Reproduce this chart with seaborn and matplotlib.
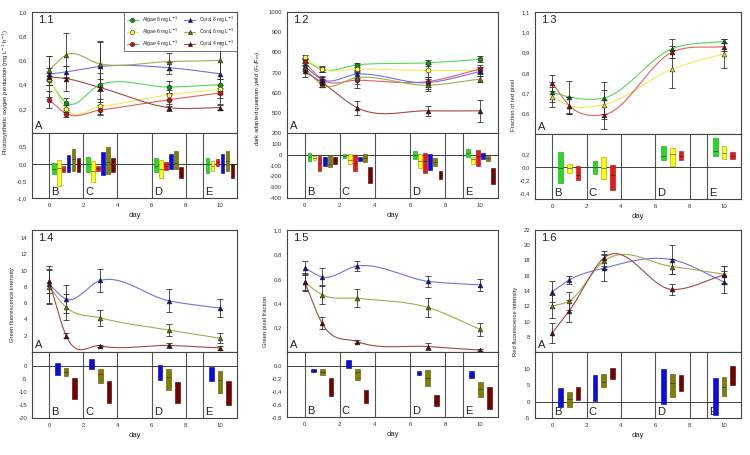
import numpy as np
import matplotlib
matplotlib.use("Agg")
import matplotlib.pyplot as plt
from matplotlib.ticker import FuncFormatter
import pandas as pd
import seaborn as sns

# sampling days of the time series
days = [0, 1, 3, 7, 10]
# centres of the comparison blocks B, C, D, E in the lower plots
block_centres = [1, 3, 7, 10]
block_letters = ["B", "C", "D", "E"]
block_lines = [0, 2, 4, 6, 8, 9]

all_series = ["Algae 8 mg L$^{-1}$", "Algae 6 mg L$^{-1}$", "Algae 4 mg L$^{-1}$",
              "Coral 8 mg L$^{-1}$", "Coral 6 mg L$^{-1}$", "Coral 4 mg L$^{-1}$"]

# 1.1 photosynthetic oxygen production (order: algae 8/6/4, coral 8/6/4)
oxy_mean = [[0.435, 0.25, 0.40, 0.38, 0.40],
            [0.45, 0.20, 0.22, 0.315, 0.36],
            [0.275, 0.16, 0.19, 0.275, 0.33],
            [0.485, 0.505, 0.55, 0.54, 0.49],
            [0.52, 0.645, 0.57, 0.59, 0.60],
            [0.465, 0.45, 0.375, 0.21, 0.21]]
oxy_sd = [[0.04, 0.04, 0.05, 0.05, 0.05],
          [0.05, 0.03, 0.06, 0.04, 0.04],
          [0.07, 0.03, 0.04, 0.05, 0.04],
          [0.05, 0.05, 0.20, 0.05, 0.25],
          [0.12, 0.18, 0.19, 0.07, 0.15],
          [0.17, 0.10, 0.12, 0.03, 0.02]]
oxy_lo = [[-0.30, -0.24, -0.24, -0.27], [-0.64, -0.54, -0.42, -0.20],
          [-0.24, -0.20, -0.17, -0.07], [-0.25, -0.32, -0.15, -0.26],
          [-0.22, -0.31, -0.15, -0.22], [-0.25, -0.24, -0.42, -0.41]]
oxy_hi = [[0.03, 0.20, 0.18, 0.18], [0.11, 0.08, 0.11, 0.08],
          [-0.07, -0.05, 0.06, 0.15], [0.27, 0.34, 0.30, 0.29],
          [0.42, 0.48, 0.37, 0.38], [0.18, 0.16, -0.09, -0.02]]
oxy_med = [[-0.15, 0.0, -0.05, 0.0], [-0.12, -0.2, -0.15, -0.05],
           [-0.17, -0.13, -0.05, 0.05], [0.0, 0.0, 0.0, 0.0],
           [0.13, 0.05, 0.03, 0.08], [-0.05, -0.05, -0.3, -0.2]]

# 1.2 dark adapted quantum yield
qy_mean = [[760, 715, 738, 748, 765],
           [775, 718, 718, 710, 710],
           [750, 665, 662, 655, 718],
           [730, 665, 692, 650, 705],
           [720, 640, 675, 637, 668],
           [705, 650, 525, 510, 510]]
qy_sd = [[12, 12, 10, 15, 15],
         [10, 15, 20, 30, 15],
         [15, 15, 40, 25, 20],
         [15, 20, 20, 30, 20],
         [15, 12, 30, 30, 15],
         [25, 20, 35, 25, 55]]
qy_lo = [[-55, -30, -40, -25], [-50, -85, -125, -90], [-150, -155, -170, -100],
         [-100, -55, -145, -40], [-115, -70, -100, -55], [-85, -265, -225, -275]]
qy_hi = [[20, 5, 30, 50], [-10, 10, 5, -20], [-15, -5, 20, 45],
         [-25, -25, 10, 15], [-5, 10, -30, -15], [-20, -115, -155, -120]]
qy_med = [[-20, -15, 0, 15], [-30, -50, -60, -40], [-80, -80, -55, -10],
          [-60, -40, -50, -10], [-90, -30, -70, -35], [-50, -200, -190, -200]]

# 1.3 fraction of red pixel (algae only)
red_frac_mean = [[0.706, 0.682, 0.677, 0.92, 0.956],
                 [0.682, 0.64, 0.645, 0.82, 0.895],
                 [0.752, 0.64, 0.595, 0.903, 0.93]]
red_frac_sd = [[0.05, 0.08, 0.08, 0.045, 0.01],
               [0.05, 0.04, 0.07, 0.095, 0.07],
               [0.04, 0.04, 0.07, 0.03, 0.02]]
red_frac_lo = [[-0.245, -0.11, 0.105, 0.17], [-0.09, -0.185, 0.02, 0.12], [-0.195, -0.345, 0.105, 0.13]]
red_frac_hi = [[0.225, 0.095, 0.32, 0.44], [0.05, 0.16, 0.285, 0.315], [0.02, 0.035, 0.24, 0.23]]
red_frac_med = [[-0.02, 0.0, 0.17, 0.25], [-0.02, -0.01, 0.2, 0.22], [-0.12, -0.12, 0.17, 0.17]]

# 1.4 green fluorescence intensity (corals only)
gfi_mean = [[8.3, 6.5, 8.8, 6.3, 5.4],
            [8.0, 5.5, 4.2, 2.7, 1.7],
            [8.7, 2.0, 0.75, 0.8, 0.5]]
gfi_sd = [[2.3, 1.7, 1.4, 1.4, 1.1],
          [2.1, 1.6, 1.0, 0.7, 0.6],
          [1.5, 0.3, 0.15, 0.3, 0.2]]
gfi_lo = [[-3.5, -1.0, -5.3, -5.9], [-4.0, -6.5, -9.2, -10.4], [-12.6, -14.1, -14.2, -14.9]]
gfi_hi = [[1.2, 2.7, 0.5, -0.5], [-0.8, -1.0, -1.2, -1.8], [-4.6, -5.9, -6.2, -5.9]]
gfi_med = [[-1.2, 0.5, -2.0, -2.5], [-2.4, -3.0, -4.3, -5.5], [-8.0, -10.0, -10.0, -10.0]]

# 1.5 green pixel fraction (corals only)
gpf_mean = [[0.69, 0.615, 0.705, 0.58, 0.55],
            [0.57, 0.47, 0.44, 0.365, 0.185],
            [0.575, 0.235, 0.085, 0.045, 0.015]]
gpf_sd = [[0.06, 0.07, 0.04, 0.045, 0.05],
          [0.07, 0.08, 0.075, 0.08, 0.05],
          [0.07, 0.05, 0.015, 0.03, 0.01]]
gpf_lo = [[-0.10, -0.04, -0.15, -0.20], [-0.15, -0.22, -0.32, -0.49], [-0.48, -0.59, -0.63, -0.67]]
gpf_hi = [[-0.05, 0.08, -0.08, -0.09], [-0.05, -0.05, -0.07, -0.25], [-0.19, -0.38, -0.46, -0.33]]
gpf_med = [[-0.07, 0.02, -0.11, -0.14], [-0.10, -0.10, -0.20, -0.36], [-0.33, -0.50, -0.55, -0.58]]

# 1.6 red fluorescence intensity (corals only)
rfi_mean = [[13.9, 15.45, 17.0, 18.1, 15.2],
            [12.0, 12.7, 17.9, 17.2, 16.2],
            [8.5, 11.4, 18.3, 14.2, 16.1]]
rfi_sd = [[1.4, 0.5, 1.7, 1.9, 1.4],
          [1.5, 1.2, 1.0, 1.0, 1.1],
          [1.3, 1.4, 1.0, 0.7, 1.2]]
rfi_lo = [[-1.5, 0.1, -0.6, -4.0], [-1.5, 4.6, 1.4, 1.8], [0.6, 7.0, 3.2, 5.0]]
rfi_hi = [[4.3, 8.1, 10.0, 7.4], [3.0, 8.6, 8.6, 7.6], [4.6, 10.4, 8.1, 11.0]]
rfi_med = [[1.5, 4.0, 5.0, 2.0], [0.8, 6.0, 5.8, 4.6], [2.5, 8.5, 5.5, 8.0]]

# styles, index matches all_series
line_colors = ["#55d855", "#eeee55", "#e06060", "#7070e8", "#a8a850", "#a04848"]
marker_colors = ["#0a9a0a", "#ffff40", "#cc1010", "#1010a0", "#707000", "#600000"]
bar_colors = ["#22dd22", "#ffff10", "#ee1515", "#0a0aee", "#808000", "#7a0000"]
bar_edges = ["#119911", "#999900", "#991111", "#000099", "#505000", "#400000"]


def smooth_curve(x, y, xs):
    # cubic Hermite curve through the points, tangents from finite differences
    x = np.asarray(x, float)
    y = np.asarray(y, float)
    m = np.gradient(y, x)
    idx = np.clip(np.searchsorted(x, xs) - 1, 0, len(x) - 2)
    h = x[idx + 1] - x[idx]
    t = (xs - x[idx]) / h
    h00 = 2 * t ** 3 - 3 * t ** 2 + 1
    h10 = t ** 3 - 2 * t ** 2 + t
    h01 = -2 * t ** 3 + 3 * t ** 2
    h11 = t ** 3 - t ** 2
    return h00 * y[idx] + h10 * h * m[idx] + h01 * y[idx + 1] + h11 * h * m[idx + 1]


def px_rect(x0, x1, y0, y1):
    return [x0 / 750, 1 - y1 / 455, (x1 - x0) / 750, (y1 - y0) / 455]


def comma_fmt(decimals):
    return FuncFormatter(lambda v, _: f"{v:.{decimals}f}".replace(".", ","))


def style_axis(ax):
    for sp in ax.spines.values():
        sp.set_color("#444444")
        sp.set_linewidth(0.8)
    ax.tick_params(labelsize=4.3, length=2, width=0.5, pad=1.5, colors="#333333")


def draw_panel(fig, rect_up, rect_lo, label, ylabel, idx, means, sds, lo, hi, med,
               markers, ylim_up, yticks_up, ylim_lo, yticks_lo, decimals, ylab_pos,
               marker_cols=None, legend=False):
    ax = fig.add_axes(rect_up)
    axb = fig.add_axes(rect_lo)
    xs = np.linspace(0, 10, 300)
    mcols = marker_cols if marker_cols else [marker_colors[i] for i in idx]
    for k, i in enumerate(idx):
        curve = pd.DataFrame({"day": xs, "value": smooth_curve(days, means[k], xs)})
        sns.lineplot(data=curve, x="day", y="value", ax=ax, color=line_colors[i],
                     linewidth=0.8, legend=False)
        ax.errorbar(days, means[k], yerr=sds[k], fmt="none", ecolor="#333333",
                    elinewidth=0.6, capsize=2, capthick=0.6, zorder=3)
        pts = pd.DataFrame({"day": days, "value": means[k]})
        sns.scatterplot(data=pts, x="day", y="value", ax=ax, marker=markers[k],
                        color=mcols[k], edgecolor="#222222", linewidth=0.4, s=12,
                        zorder=4, legend=False)
    if legend:
        handles = []
        for k, i in enumerate(idx):
            h, = ax.plot([], [], color=line_colors[i], marker=markers[k], markersize=3,
                         markerfacecolor=mcols[k], markeredgecolor="#222222",
                         markeredgewidth=0.4, linewidth=0.8, label=all_series[i])
            handles.append(h)
        leg = ax.legend(handles=handles, loc="upper right", ncol=2, fontsize=3.6,
                        frameon=True, fancybox=False, borderaxespad=0.0,
                        handlelength=2.2, columnspacing=1.2, labelspacing=0.35,
                        borderpad=0.5)
        leg.get_frame().set_edgecolor("#333333")
        leg.get_frame().set_linewidth(0.6)
    ax.set_xlim(-1, 11)
    ax.set_ylim(*ylim_up)
    ax.set_yticks(yticks_up)
    ax.yaxis.set_major_formatter(comma_fmt(decimals))
    ax.set_xticks([])
    ax.set_xlabel("")
    ax.set_ylabel(ylabel, fontsize=4.2)
    ax.yaxis.set_label_coords(*ylab_pos)
    ax.text(0.03, 0.91, label, transform=ax.transAxes, fontsize=8, color="#222222")
    ax.text(0.015, 0.03, "A", transform=ax.transAxes, fontsize=8, color="#222222")
    style_axis(ax)

    n = len(idx)
    spacing = 0.29 if n == 6 else 0.5
    width = 0.21 if n == 6 else 0.27
    for k, i in enumerate(idx):
        pos = [c + (k - (n - 1) / 2) * spacing for c in block_centres]
        heights = [h_ - l_ for h_, l_ in zip(hi[k], lo[k])]
        axb.bar(pos, heights, bottom=lo[k], width=width, color=bar_colors[i],
                edgecolor=bar_edges[i], linewidth=0.4, zorder=3)
        axb.hlines(med[k], [p - width / 2 for p in pos], [p + width / 2 for p in pos],
                   color="#222222", linewidth=0.4, zorder=4)
    for xl in block_lines:
        axb.axvline(xl, color="#555555", linewidth=0.8, zorder=1)
    axb.axhline(0, color="#222222", linewidth=0.6, zorder=2)
    for xl, let in zip([0, 2, 6, 9], block_letters):
        axb.text(xl + 0.12, ylim_lo[0] + 0.04 * (ylim_lo[1] - ylim_lo[0]), let,
                 fontsize=8, color="#222222")
    axb.set_xlim(-1, 11)
    axb.set_ylim(*ylim_lo)
    axb.set_yticks(yticks_lo)
    axb.yaxis.set_major_formatter(comma_fmt(decimals))
    axb.set_xticks([0, 2, 4, 6, 8, 10])
    axb.set_xlabel("day", fontsize=5.5, labelpad=3)
    style_axis(axb)


sns.set_style("white")
plt.rcParams["font.family"] = ["Liberation Sans", "DejaVu Sans"]

fig = plt.figure(figsize=(7.5, 4.55), dpi=100)

tri = ["^", "^", "^"]
circ6 = ["o", "o", "o", "^", "^", "^"]

draw_panel(fig, px_rect(32, 237, 12, 133), px_rect(32, 237, 133, 198), "1.1",
           "Photosynthetic oxygen production (mg L$^{-1}$ h$^{-1}$)", [0, 1, 2, 3, 4, 5],
           oxy_mean, oxy_sd, oxy_lo, oxy_hi, oxy_med, circ6,
           (0, 1.0), [0.2, 0.4, 0.6, 0.8, 1.0], (-1.0, 0.9), [-1.0, -0.5, 0.0, 0.5],
           1, (-0.1, 0.34), legend=True)

draw_panel(fig, px_rect(287, 498, 12, 133), px_rect(287, 498, 133, 198), "1.2",
           "dark adapted quantum yield (F$_v$/F$_m$)", [0, 1, 2, 3, 4, 5],
           qy_mean, qy_sd, qy_lo, qy_hi, qy_med, circ6,
           (400, 1000), [500, 600, 700, 800, 900, 1000], (-400, 200),
           [-400, -300, -200, -100, 0, 100, 200], 0, (-0.12, 0.29))

draw_panel(fig, px_rect(535, 741, 12, 134), px_rect(535, 741, 134, 199), "1.3",
           "Fraction of red pixel", [0, 1, 2],
           red_frac_mean, red_frac_sd, red_frac_lo, red_frac_hi, red_frac_med, tri,
           (0.5, 1.1), [0.6, 0.7, 0.8, 0.9, 1.0, 1.1], (-0.48, 0.5),
           [-0.4, -0.2, 0.0, 0.2], 1, (-0.092, 0.24),
           marker_cols=["#006a00", "#e0e040", "#990000"])

draw_panel(fig, px_rect(32, 237, 230, 352), px_rect(32, 237, 352, 418), "1.4",
           "Green fluorescence intensity", [3, 4, 5],
           gfi_mean, gfi_sd, gfi_lo, gfi_hi, gfi_med, tri,
           (0, 15), [2, 4, 6, 8, 10, 12, 14], (-20, 5.4), [-20, -15, -10, -5, 0],
           0, (-0.083, 0.39))

draw_panel(fig, px_rect(287, 498, 230, 352), px_rect(287, 498, 352, 417), "1.5",
           "Green pixel fraction", [3, 4, 5],
           gpf_mean, gpf_sd, gpf_lo, gpf_hi, gpf_med, tri,
           (0, 1.0), [0.2, 0.4, 0.6, 0.8, 1.0], (-0.8, 0.21),
           [-0.8, -0.6, -0.4, -0.2, 0.0], 1, (-0.09, 0.25))

draw_panel(fig, px_rect(535, 741, 230, 352), px_rect(535, 741, 352, 418), "1.6",
           "Red fluorescence intensity", [3, 4, 5],
           rfi_mean, rfi_sd, rfi_lo, rfi_hi, rfi_med, tri,
           (6, 22), [8, 10, 12, 14, 16, 18, 20, 22], (-5, 15.3), [-5, 0, 5, 10],
           0, (-0.083, 0.25))

fig.savefig("out.png", dpi=100)
